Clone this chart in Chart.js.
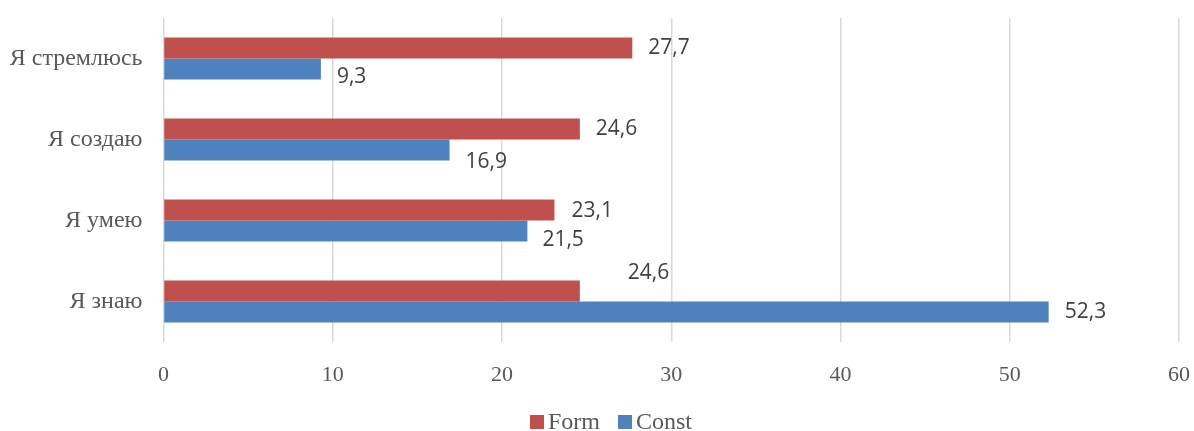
<!DOCTYPE html>
<html>
<head>
<meta charset="utf-8">
<script src="https://cdn.jsdelivr.net/npm/chart.js@4"></script>
<style>
    html, body { margin: 0; padding: 0; background: #ffffff; }
    #wrap { width: 1194px; height: 431px; position: relative; }
</style>
</head>
<body>
<div id="wrap"><canvas id="chart"></canvas></div>
<script>
// Data
const categories = ['Я стремлюсь', 'Я создаю', 'Я умею', 'Я знаю'];
const formValues = [27.7, 24.6, 23.1, 24.6];
const constValues = [9.3, 16.9, 21.5, 52.3];
const xTicks = [0, 10, 20, 30, 40, 50, 60];

// label nudges (dx from bar end, dy from bar centre), as placed in the original
const labelNudge = [
    [[16, 0], [16, 0], [17, 1], [48, -18]],
    [[16, 8], [16, 12], [15, 9], [16, 0]]
];

const serif = "'Liberation Serif', 'Times New Roman', serif";
const sans = "'Open Sans', 'Liberation Sans', sans-serif";
const tickColor = '#595959';

function fmt(v) {
    return v.toFixed(1).replace('.', ',');
}

// value labels next to the bars
const valueLabels = {
    id: 'valueLabels',
    afterDatasetsDraw(chart) {
        const ctx = chart.ctx;
        ctx.save();
        ctx.font = '21px ' + sans;
        ctx.fillStyle = '#404040';
        ctx.textAlign = 'left';
        ctx.textBaseline = 'middle';
        chart.data.datasets.forEach((ds, di) => {
            const meta = chart.getDatasetMeta(di);
            meta.data.forEach((bar, i) => {
                const [dx, dy] = labelNudge[di][i];
                ctx.fillText(fmt(ds.data[i]), bar.x + dx, bar.y + dy);
            });
        });
        ctx.restore();
    }
};

// bottom legend, small squares close to the text
const bottomLegend = {
    id: 'bottomLegend',
    afterDraw(chart) {
        const ctx = chart.ctx;
        const box = 14, gap = 4, itemGap = 18;
        const y = 423;
        ctx.save();
        ctx.font = '24px ' + serif;
        ctx.textBaseline = 'middle';
        const items = chart.data.datasets.map(ds => ({
            text: ds.label,
            color: ds.backgroundColor,
            w: ctx.measureText(ds.label).width
        }));
        let total = 0;
        items.forEach((it, i) => {
            total += box + gap + it.w + (i < items.length - 1 ? itemGap : 0);
        });
        let x = 611 - total / 2;
        items.forEach(it => {
            ctx.fillStyle = it.color;
            ctx.fillRect(x, y - box / 2 - 1, box, box);
            x += box + gap;
            ctx.fillStyle = tickColor;
            ctx.textAlign = 'left';
            ctx.fillText(it.text, x, y);
            x += it.w + itemGap;
        });
        ctx.restore();
    }
};

const ctx = document.getElementById('chart').getContext('2d');

const chart = new Chart(ctx, {
    type: 'bar',
    data: {
        labels: categories,
        datasets: [
            {
                label: 'Form',
                data: formValues,
                backgroundColor: '#C0504D',
                borderWidth: 0,
                categoryPercentage: 0.52,
                barPercentage: 1
            },
            {
                label: 'Const',
                data: constValues,
                backgroundColor: '#4F81BD',
                borderWidth: 0,
                categoryPercentage: 0.52,
                barPercentage: 1
            }
        ]
    },
    options: {
        indexAxis: 'y',
        responsive: true,
        maintainAspectRatio: false,
        animation: false,
        layout: {
            padding: { top: 18, right: 15, left: 0, bottom: 0 }
        },
        scales: {
            x: {
                min: 0,
                max: 60,
                afterBuildTicks: (scale) => {
                    scale.ticks = xTicks.map(v => ({ value: v }));
                },
                afterFit: (scale) => {
                    scale.height = 89;
                    scale.paddingLeft = 0;
                    scale.paddingRight = 0;
                },
                grid: {
                    color: '#d9d9d9',
                    lineWidth: 1.5,
                    drawTicks: false
                },
                border: { display: false },
                ticks: {
                    color: tickColor,
                    padding: 20,
                    font: { family: serif, size: 22 }
                }
            },
            y: {
                afterFit: (scale) => {
                    scale.width = 163.5;
                    scale.paddingTop = 0;
                    scale.paddingBottom = 0;
                },
                grid: { display: false, drawTicks: false },
                border: { display: false },
                ticks: {
                    color: tickColor,
                    padding: 21,
                    font: { family: serif, size: 24 }
                }
            }
        },
        plugins: {
            legend: { display: false },
            tooltip: { enabled: false }
        }
    },
    plugins: [valueLabels, bottomLegend]
});
</script>
</body>
</html>
